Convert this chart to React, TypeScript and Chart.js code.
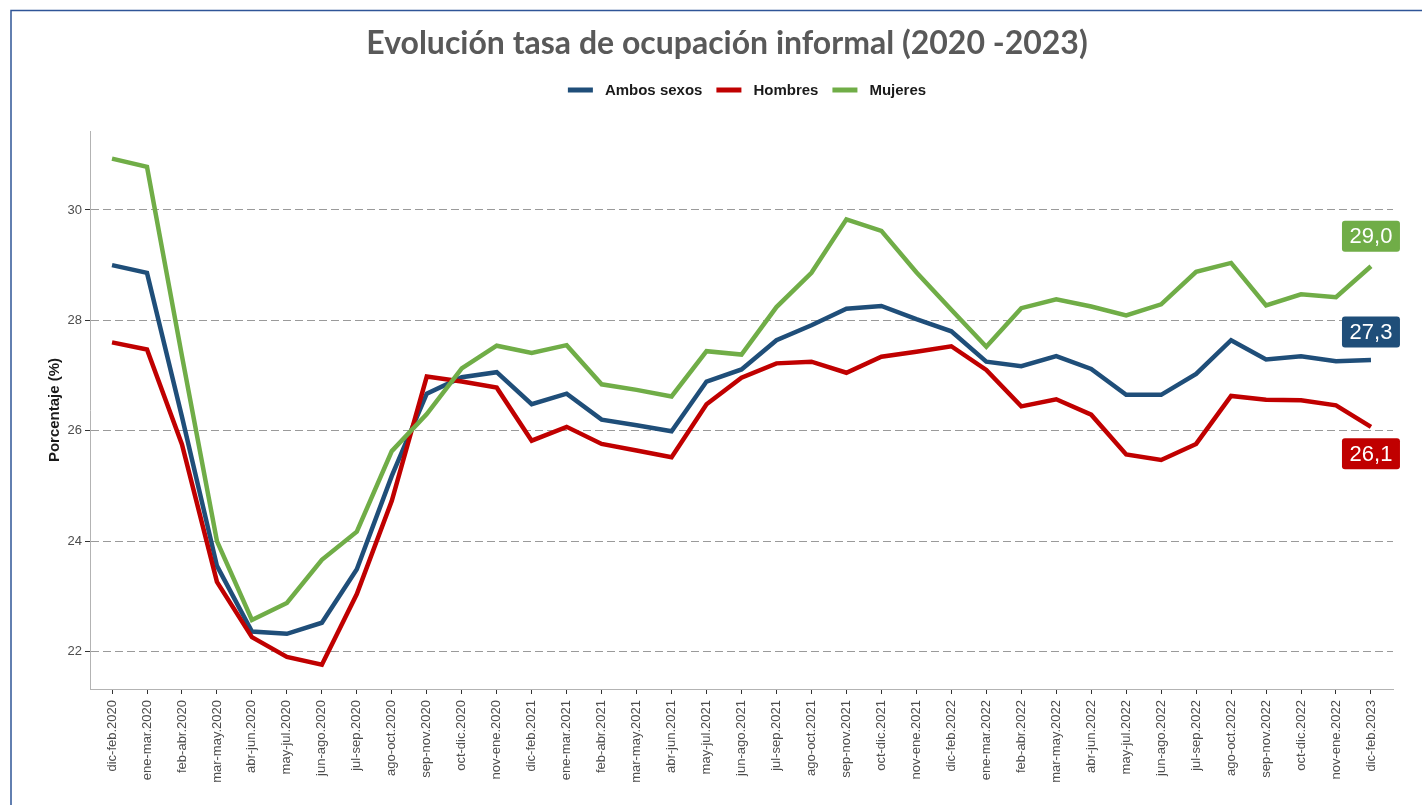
import React, { useEffect, useRef } from "react";
import { Chart, registerables } from "chart.js";

Chart.register(...registerables);

const categories = [
  "dic-feb.2020", "ene-mar.2020", "feb-abr.2020", "mar-may.2020", "abr-jun.2020", "may-jul.2020",
  "jun-ago.2020", "jul-sep.2020", "ago-oct.2020", "sep-nov.2020", "oct-dic.2020", "nov-ene.2020",
  "dic-feb.2021", "ene-mar.2021", "feb-abr.2021", "mar-may.2021", "abr-jun.2021", "may-jul.2021",
  "jun-ago.2021", "jul-sep.2021", "ago-oct.2021", "sep-nov.2021", "oct-dic.2021", "nov-ene.2021",
  "dic-feb.2022", "ene-mar.2022", "feb-abr.2022", "mar-may.2022", "abr-jun.2022", "may-jul.2022",
  "jun-ago.2022", "jul-sep.2022", "ago-oct.2022", "sep-nov.2022", "oct-dic.2022", "nov-ene.2022",
  "dic-feb.2023",
];

const ambos = [
  29.0, 28.86, 26.25, 23.55, 22.36, 22.32, 22.52, 23.49, 25.18, 26.67, 26.97, 27.06,
  26.48, 26.67, 26.2, 26.1, 25.99, 26.89, 27.11, 27.64, 27.91, 28.21, 28.26, 28.02,
  27.8, 27.25, 27.17, 27.35, 27.12, 26.65, 26.65, 27.03, 27.64, 27.29, 27.35, 27.26,
  27.28,
];

const hombres = [
  27.6, 27.47, 25.75, 23.26, 22.26, 21.9, 21.76, 23.04, 24.73, 26.98, 26.89, 26.78,
  25.82, 26.07, 25.76, 25.64, 25.52, 26.48, 26.96, 27.22, 27.25, 27.05, 27.34, 27.43,
  27.53, 27.1, 26.44, 26.57, 26.29, 25.57, 25.47, 25.76, 26.63, 26.56, 26.55, 26.46,
  26.07,
];

const mujeres = [
  30.93, 30.78, 27.35, 24.0, 22.57, 22.88, 23.66, 24.17, 25.63, 26.3, 27.13, 27.54,
  27.41, 27.55, 26.84, 26.74, 26.62, 27.44, 27.38, 28.24, 28.86, 29.83, 29.62, 28.87,
  28.19, 27.52, 28.22, 28.38, 28.25, 28.09, 28.29, 28.88, 29.04, 28.27, 28.47, 28.42,
  28.98,
];

const yTicks = [22, 24, 26, 28, 30];
const seriesNames = ["Ambos sexos", "Hombres", "Mujeres"];
const seriesColors = ["#1F4E79", "#C00000", "#70AD47"];
const chartTitle = "Evolución tasa de ocupación informal (2020 -2023)";
const yTitle = "Porcentaje (%)";

const SANS = "'Liberation Sans', Arial, sans-serif";

const decorPlugin = {
  id: "decor",
  beforeDraw(chart: any) {
    const ctx = chart.ctx as CanvasRenderingContext2D;
    ctx.save();
    ctx.fillStyle = "#ffffff";
    ctx.fillRect(0, 0, chart.width, chart.height);
    // frame
    ctx.strokeStyle = "#2F5597";
    ctx.lineWidth = 1.5;
    ctx.beginPath();
    ctx.moveTo(11, chart.height);
    ctx.lineTo(11, 10.5);
    ctx.lineTo(chart.width, 10.5);
    ctx.stroke();
    // title
    ctx.font = "bold 32px Lato, 'Open Sans', sans-serif";
    ctx.fillStyle = "#595959";
    ctx.textAlign = "center";
    ctx.textBaseline = "alphabetic";
    ctx.fillText(chartTitle, 727, 54);
    // legend
    ctx.font = `bold 15px ${SANS}`;
    const lineW = 25;
    const gapText = 12;
    const gapItem = 14;
    const widths = seriesNames.map((n) => ctx.measureText(n).width);
    const total =
      widths.reduce((a, w) => a + lineW + gapText + w, 0) + gapItem * (seriesNames.length - 1);
    let x = 747 - total / 2;
    const ly = 90;
    ctx.textAlign = "left";
    ctx.textBaseline = "middle";
    seriesNames.forEach((n, i) => {
      ctx.fillStyle = seriesColors[i];
      ctx.fillRect(x, ly - 2.5, lineW, 5);
      ctx.fillStyle = "#1a1a1a";
      ctx.fillText(n, x + lineW + gapText, ly + 0.5);
      x += lineW + gapText + widths[i] + gapItem;
    });
    ctx.restore();
  },
  afterDatasetsDraw(chart: any) {
    const ctx = chart.ctx as CanvasRenderingContext2D;
    const offsets = [-28, 27, -30];
    ctx.save();
    ctx.font = `22px ${SANS}`;
    ctx.textAlign = "center";
    ctx.textBaseline = "middle";
    chart.data.datasets.forEach((ds: any, i: number) => {
      const meta = chart.getDatasetMeta(i);
      const pt = meta.data[meta.data.length - 1];
      const val = ds.data[ds.data.length - 1].y as number;
      const txt = val.toFixed(1).replace(".", ",");
      const cx = pt.x;
      const cy = pt.y + offsets[i];
      const w = 58;
      const h = 31;
      ctx.fillStyle = seriesColors[i];
      ctx.beginPath();
      if ((ctx as any).roundRect) (ctx as any).roundRect(cx - w / 2, cy - h / 2, w, h, 3);
      else ctx.rect(cx - w / 2, cy - h / 2, w, h);
      ctx.fill();
      ctx.fillStyle = "#ffffff";
      ctx.fillText(txt, cx, cy + 1);
    });
    ctx.restore();
  },
};

export default function App() {
  const canvasRef = useRef<HTMLCanvasElement | null>(null);

  useEffect(() => {
    if (!canvasRef.current) return;
    const series = [ambos, hombres, mujeres];
    const chart = new Chart(canvasRef.current, {
      type: "line",
      data: {
        datasets: series.map((arr, i) => ({
          label: seriesNames[i],
          data: arr.map((v, j) => ({ x: j, y: v })),
          borderColor: seriesColors[i],
          backgroundColor: seriesColors[i],
          borderWidth: 4.5,
          pointRadius: 0,
          tension: 0,
          fill: false,
          order: 3 - i,
        })),
      },
      options: {
        animation: false,
        responsive: false,
        devicePixelRatio: 1,
        layout: { padding: { left: 0, top: 131, right: 29, bottom: 0 } },
        plugins: {
          legend: { display: false },
          title: { display: false },
          tooltip: { enabled: false },
        },
        scales: {
          x: {
            type: "linear",
            min: -0.63,
            max: 36.63,
            afterBuildTicks: (s: any) => {
              s.ticks = categories.map((_, i) => ({ value: i }));
            },
            afterFit: (s: any) => {
              s.height = 116;
            },
            ticks: {
              autoSkip: false,
              minRotation: 90,
              maxRotation: 90,
              padding: 6,
              color: "#4d4d4d",
              font: { size: 13, family: SANS },
              callback: (v: any) => categories[Math.round(Number(v))] ?? "",
            },
            grid: {
              drawOnChartArea: false,
              drawTicks: true,
              tickLength: 5,
              tickColor: "#333333",
              tickWidth: 1,
            },
            border: { display: true, color: "#b3b3b3", width: 1 },
          },
          y: {
            type: "linear",
            min: 21.32,
            max: 31.43,
            afterBuildTicks: (s: any) => {
              s.ticks = yTicks.map((v) => ({ value: v }));
            },
            afterFit: (s: any) => {
              s.width = 90;
            },
            ticks: {
              color: "#4d4d4d",
              padding: 3,
              font: { size: 13, family: SANS },
              callback: (v: any) => String(v),
            },
            grid: {
              color: "#9a9a9a",
              lineWidth: 1,
              drawTicks: true,
              tickLength: 5,
              tickColor: "#333333",
              tickBorderDash: [],
            },
            border: { display: true, color: "#b3b3b3", width: 1, dash: [8, 4] },
            title: {
              display: true,
              text: yTitle,
              color: "#1a1a1a",
              font: { size: 15, weight: "bold", family: SANS },
              padding: { top: 46, bottom: 0 },
            },
          },
        },
      },
      plugins: [decorPlugin],
    });
    return () => chart.destroy();
  }, []);

  return (
    <div style={{ position: "fixed", left: 0, top: 0, width: 1422, height: 805, background: "#fff" }}>
      <canvas ref={canvasRef} width={1422} height={805} style={{ display: "block" }} />
    </div>
  );
}
